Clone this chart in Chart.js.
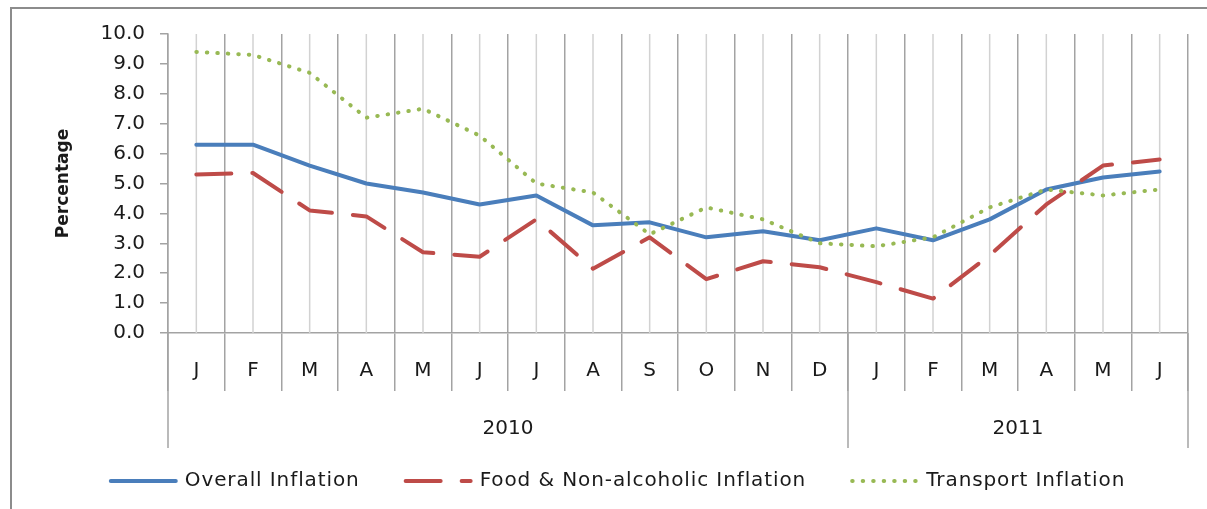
<!DOCTYPE html>
<html>
<head>
<meta charset="utf-8">
<script src="https://cdn.jsdelivr.net/npm/chart.js@4.4.0/dist/chart.umd.min.js"></script>
<style>
    html, body { margin: 0; padding: 0; background: #fff; }
    canvas { display: block; }
</style>
</head>
<body>
<canvas id="inflationChart" width="1207" height="509"></canvas>
<script>
// Month initials on the axis, years grouped underneath
var months = ['J', 'F', 'M', 'A', 'M', 'J', 'J', 'A', 'S', 'O', 'N', 'D', 'J', 'F', 'M', 'A', 'M', 'J'];
var years = ['2010', '2011'];
var monthsPerYear = [12, 6];

// Inflation rates (%)
var overallInflation = [6.3, 6.3, 5.6, 5.0, 4.7, 4.3, 4.6, 3.6, 3.7, 3.2, 3.4, 3.1, 3.5, 3.1, 3.8, 4.8, 5.2, 5.4];
var foodInflation = [5.3, 5.35, 4.1, 3.9, 2.7, 2.55, 3.8, 2.15, 3.2, 1.8, 2.4, 2.2, 1.7, 1.15, 2.6, 4.3, 5.6, 5.8];
var transportInflation = [9.4, 9.3, 8.7, 7.2, 7.5, 6.6, 5.0, 4.7, 3.3, 4.2, 3.8, 3.0, 2.9, 3.2, 4.2, 4.8, 4.6, 4.8];

var yMin = 0, yMax = 10, yStep = 1;

var FONT = 'DejaVu Sans';
var TEXT = '#1a1a1a';
var GRID_DARK = '#a3a3a3';
var GRID_LIGHT = '#d2d2d2';

// Extra drawing: centre lines, two-level category labels, legend, frame
var chartDecor = {
    id: 'chartDecor',
    beforeDraw: function(chart) {
        var ctx = chart.ctx;
        ctx.save();
        ctx.fillStyle = '#fff';
        ctx.fillRect(0, 0, chart.width, chart.height);
        ctx.restore();
    },
    beforeDatasetsDraw: function(chart) {
        var ctx = chart.ctx, x = chart.scales.x, area = chart.chartArea;
        ctx.save();
        ctx.strokeStyle = GRID_LIGHT;
        ctx.lineWidth = 1.5;
        months.forEach(function(m, i) {
            var px = x.getPixelForValue(i);
            ctx.beginPath();
            ctx.moveTo(px, area.top);
            ctx.lineTo(px, area.bottom);
            ctx.stroke();
        });
        ctx.restore();
    },
    afterDraw: function(chart) {
        var ctx = chart.ctx, x = chart.scales.x, area = chart.chartArea;
        var half = (x.getPixelForValue(1) - x.getPixelForValue(0)) / 2;
        ctx.save();

        // month initials
        ctx.fillStyle = TEXT;
        ctx.font = '20px "' + FONT + '"';
        ctx.textAlign = 'center';
        ctx.textBaseline = 'middle';
        months.forEach(function(m, i) {
            ctx.fillText(m, x.getPixelForValue(i), area.bottom + 38);
        });

        // year separators and labels
        ctx.strokeStyle = GRID_DARK;
        ctx.lineWidth = 1.5;
        var start = 0;
        var edges = [x.getPixelForValue(0) - half];
        years.forEach(function(y, k) {
            var end = start + monthsPerYear[k] - 1;
            var left = x.getPixelForValue(start) - half;
            var right = x.getPixelForValue(end) + half;
            edges.push(right);
            ctx.fillText(y, (left + right) / 2, area.bottom + 96);
            start = end + 1;
        });
        edges.forEach(function(px) {
            ctx.beginPath();
            ctx.moveTo(px, area.bottom);
            ctx.lineTo(px, area.bottom + 115);
            ctx.stroke();
        });

        // legend
        var sampleLen = 69, sampleGap = 7, itemGap = 44, legendY = 481;
        ctx.font = '20px "' + FONT + '"';
        ctx.letterSpacing = '0.9px';
        var items = chart.data.datasets.map(function(ds) {
            return { ds: ds, w: sampleLen + sampleGap + ctx.measureText(ds.label).width };
        });
        var total = items.reduce(function(s, it) { return s + it.w; }, 0) + itemGap * (items.length - 1);
        var lx = 617 - total / 2;
        ctx.textAlign = 'left';
        items.forEach(function(it) {
            ctx.save();
            ctx.strokeStyle = it.ds.borderColor;
            ctx.lineWidth = it.ds.borderWidth;
            ctx.lineCap = 'round';
            ctx.setLineDash(it.ds.borderDash || []);
            ctx.beginPath();
            ctx.moveTo(lx + 2, legendY);
            ctx.lineTo(lx + sampleLen - 2, legendY);
            ctx.stroke();
            ctx.restore();
            ctx.fillStyle = TEXT;
            ctx.fillText(it.ds.label, lx + sampleLen + sampleGap, legendY);
            lx += it.w + itemGap;
        });
        ctx.letterSpacing = '0px';

        // outer frame (top and left edges visible)
        ctx.strokeStyle = '#8c8c8c';
        ctx.lineWidth = 2;
        ctx.beginPath();
        ctx.moveTo(11, chart.height);
        ctx.lineTo(11, 8);
        ctx.lineTo(chart.width, 8);
        ctx.stroke();
        ctx.restore();
    }
};

var ctx = document.getElementById('inflationChart');
var inflationChart = new Chart(ctx, {
    type: 'line',
    data: {
        labels: months,
        datasets: [{
            label: 'Overall Inflation',
            data: overallInflation,
            borderColor: '#4a7ebb',
            borderWidth: 4,
            borderCapStyle: 'round',
            borderJoinStyle: 'round',
            pointRadius: 0,
            tension: 0,
            order: 3
        }, {
            label: 'Food & Non-alcoholic Inflation',
            data: foodInflation,
            borderColor: '#be4b48',
            borderWidth: 4,
            borderDash: [35, 21],
            borderCapStyle: 'round',
            borderJoinStyle: 'round',
            pointRadius: 0,
            tension: 0,
            order: 2
        }, {
            label: 'Transport Inflation',
            data: transportInflation,
            borderColor: '#98b954',
            borderWidth: 4,
            borderDash: [0.5, 10],
            borderCapStyle: 'round',
            borderJoinStyle: 'round',
            pointRadius: 0,
            tension: 0,
            order: 1
        }]
    },
    options: {
        responsive: false,
        animation: false,
        layout: {
            padding: { top: 34, right: 19, bottom: 41, left: 49 }
        },
        plugins: {
            legend: { display: false },
            tooltip: { enabled: false },
            title: { display: false }
        },
        scales: {
            x: {
                type: 'category',
                offset: true,
                grid: {
                    offset: true,
                    color: GRID_DARK,
                    lineWidth: 1.5,
                    drawTicks: true,
                    tickLength: 58
                },
                border: { color: GRID_DARK, width: 1.5 },
                ticks: { display: false },
                afterFit: function(scale) { scale.height = 135; }
            },
            y: {
                min: yMin,
                max: yMax,
                ticks: {
                    stepSize: yStep,
                    padding: 15,
                    color: TEXT,
                    font: { family: FONT, size: 20 },
                    callback: function(v) { return v.toFixed(1); }
                },
                grid: {
                    drawOnChartArea: false,
                    drawTicks: true,
                    tickLength: 8,
                    color: GRID_DARK,
                    lineWidth: 1.5
                },
                border: { color: GRID_DARK, width: 1.5 },
                title: {
                    display: true,
                    text: 'Percentage',
                    color: TEXT,
                    font: { family: FONT, size: 17, weight: 'bold' }
                },
                afterFit: function(scale) { scale.width = 119; }
            }
        }
    },
    plugins: [chartDecor]
});
</script>
</body>
</html>
